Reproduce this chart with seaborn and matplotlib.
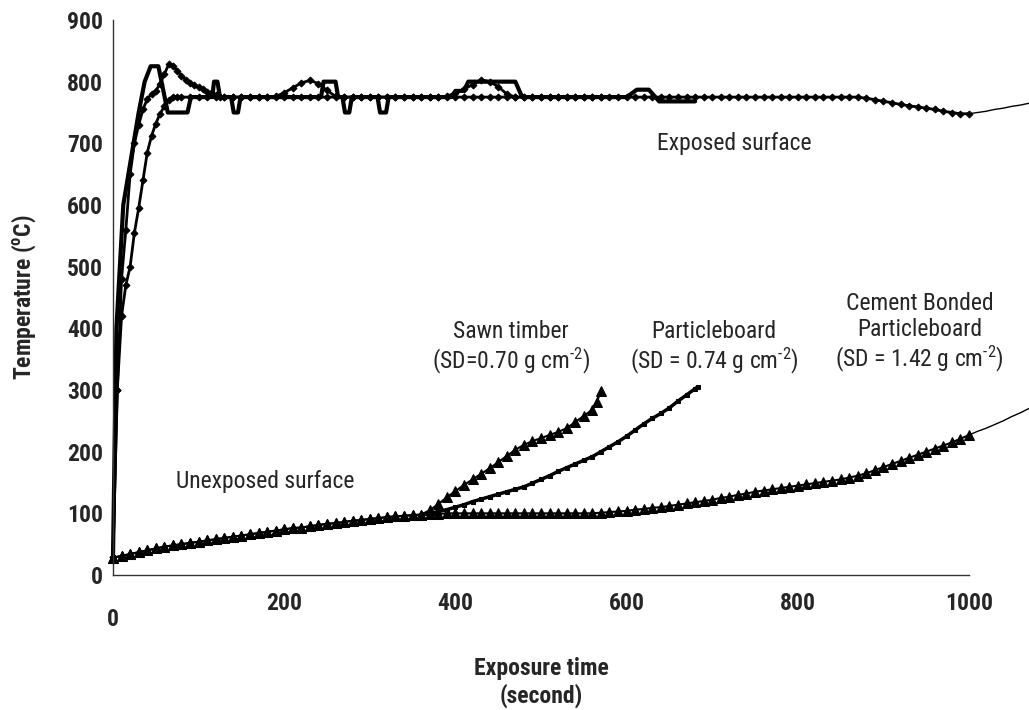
# temperature vs exposure time, exposed and unexposed surfaces
import numpy as np
import pandas as pd
import seaborn as sns
import matplotlib.pyplot as plt
from matplotlib import font_manager

# ---- exposed surface (thermocouples on the fire side) ----
# curve A: plain thick line, stepwise readings
t_exp_a = [0, 4, 8, 12, 18, 24, 30, 37, 44, 53, 64, 87, 91, 116, 118, 122, 125,
           138, 141, 146, 149, 243, 246, 260, 263, 268, 271, 276, 279, 309, 312,
           319, 322, 395, 400, 410, 415, 470, 478, 600, 612, 626, 638, 680]
temp_exp_a = [30, 400, 500, 600, 650, 700, 750, 800, 825, 825, 750, 750, 775, 775, 800, 800, 775,
              775, 750, 750, 775, 775, 800, 800, 775, 775, 750, 750, 775, 775, 750,
              750, 775, 775, 785, 785, 800, 800, 775, 775, 787, 787, 768, 768]

# curve B: diamonds, ends with the sawn timber test
t_exp_b = np.concatenate([np.arange(0, 130, 5), np.arange(130, 571, 10)])
temp_exp_b = [30, 300, 480, 560, 650, 700, 730, 755, 772, 780, 785, 797, 812, 828, 826, 818,
              810, 803, 798, 794, 791, 788, 784, 781, 778, 775,
              775, 775, 775, 775, 775, 775, 776, 782, 790, 798,
              802, 797, 786, 776, 775, 775, 775, 775, 775, 775,
              775, 775, 775, 775, 775, 775, 776, 782, 788, 795,
              803, 800, 792, 780, 775, 775, 775, 775, 775, 775,
              775, 775, 775, 775, 775]

# curve C: diamonds, runs to the end of the cement bonded board test
t_exp_c = np.concatenate([np.arange(0, 80, 5), np.arange(80, 1001, 10)])
temp_exp_c = [30, 300, 420, 470, 500, 555, 595, 640, 685, 712, 732, 748, 760, 770, 775, 775,
              775, 775, 775, 775, 775, 775, 775, 775, 775, 775,
              775, 775, 775, 775, 775, 775, 775, 775, 775, 775,
              775, 775, 775, 775, 775, 775, 775, 775, 775, 775,
              775, 775, 775, 775, 775, 775, 775, 775, 775, 775,
              775, 775, 775, 775, 775, 775, 775, 775, 775, 775,
              775, 775, 775, 775, 775, 775, 775, 775, 775, 775,
              775, 775, 775, 775, 775, 775, 775, 775, 775, 775,
              775, 775, 775, 775, 775, 775, 775, 775, 775,
              775, 773, 771, 768, 766, 763, 761, 759, 757, 755, 752, 750, 748, 748]
t_exp_c_end = [1000, 1010, 1020, 1030, 1040, 1050, 1060, 1070]
temp_exp_c_end = [748, 750, 752, 755, 757, 760, 762, 765]

# ---- unexposed surface ----
t_common = np.arange(0, 351, 10)
temp_common = [28, 31, 34, 37, 40, 43, 46, 48, 50, 52, 54, 56, 58, 60, 62, 64, 66, 68,
               70, 72, 74, 76, 77, 79, 81, 83, 84, 86, 88, 89, 91, 92, 94, 95, 96, 97]

t_timber = [360, 370, 380, 390, 400, 410, 420, 430, 440, 450, 460, 470, 480, 490, 500,
            510, 520, 530, 540, 550, 560, 565, 570]
temp_timber = [98, 105, 115, 126, 136, 146, 155, 164, 173, 183, 193, 203, 211, 217, 222,
               227, 232, 238, 248, 258, 268, 280, 298]

t_pb = [360, 370, 380, 390, 400, 410, 420, 430, 440, 450, 460, 470, 480, 490, 500, 510,
        520, 530, 540, 550, 560, 570, 580, 590, 600, 610, 620, 630, 640, 650, 660, 670,
        680, 683]
temp_pb = [98, 100, 103, 106, 110, 114, 119, 123, 127, 131, 135, 139, 143, 149, 155, 161,
           168, 174, 180, 186, 192, 200, 208, 216, 225, 235, 245, 254, 262, 271, 282, 292,
           302, 305]

t_cbp = np.arange(360, 1001, 10)
temp_cbp = [98, 99, 99, 100, 100, 100, 100, 100, 100, 100, 100, 100, 100, 100, 100, 100,
            100, 100, 100, 100, 100, 101, 102, 103, 104, 106, 107, 109, 110, 112, 114, 116,
            118, 120, 122, 125, 127, 130, 132, 135, 137, 139, 141, 143, 145, 147, 149, 151,
            153, 155, 158, 161, 165, 170, 175, 180, 185, 190, 195, 200, 205, 210, 215, 221,
            227]
t_cbp_end = [1000, 1010, 1020, 1030, 1040, 1050, 1060, 1070]
temp_cbp_end = [227, 233, 238, 244, 250, 257, 263, 270]

xticks = [0, 200, 400, 600, 800, 1000]
yticks = [0, 100, 200, 300, 400, 500, 600, 700, 800, 900]

# ---- style ----
sns.set_style("white")
# narrow sans like the original, one that also has a real bold face
weights = {}
for f in font_manager.fontManager.ttflist:
    weights.setdefault(f.name, set()).add(f.weight)
narrow = 'Liberation Sans'
for name in ['Liberation Sans Narrow', 'Arial Narrow', 'Roboto Condensed',
             'Arimo Narrow', 'Archivo Narrow', 'IBM Plex Sans Condensed', 'PT Sans Narrow']:
    w = weights.get(name, set())
    if 400 in w and any(x >= 600 for x in w if isinstance(x, int)):
        narrow = name
        break
plt.rcParams['font.family'] = [narrow, 'Liberation Sans', 'DejaVu Sans']
plt.rcParams['mathtext.default'] = 'regular'
FS = 17

fig = plt.figure(figsize=(10.29, 7.10), dpi=100)
ax = fig.add_axes([113 / 1029, 1 - 575 / 710, (969 - 113) / 1029, (575 - 20) / 710])

k = dict(color='black', estimator=None, sort=False, ax=ax, legend=False)

# unexposed
sns.lineplot(x=np.concatenate([t_common, t_cbp]), y=temp_common + temp_cbp,
             lw=1.5, marker='^', markersize=6.5, markeredgecolor='black', **k)
sns.lineplot(x=np.concatenate([t_common, t_timber]), y=temp_common + temp_timber,
             lw=1.5, marker='^', markersize=6.5, markeredgecolor='black', **k)
sns.lineplot(x=t_pb, y=temp_pb, lw=2.5, marker='s', markersize=3,
             markeredgecolor='black', **k)
sns.lineplot(x=t_cbp_end, y=temp_cbp_end, lw=1, **k)

# exposed
sns.lineplot(x=t_exp_a, y=temp_exp_a, lw=3, **k)
sns.lineplot(x=t_exp_b, y=temp_exp_b, lw=2, marker='D', markersize=3.5,
             markeredgecolor='black', **k)
sns.lineplot(x=t_exp_c, y=temp_exp_c, lw=2, marker='D', markersize=3.5,
             markeredgecolor='black', **k)
sns.lineplot(x=t_exp_c_end, y=temp_exp_c_end, lw=1, **k)

for ln in ax.lines:
    ln.set_clip_on(False)

ax.set_xlim(0, 1000)
ax.set_ylim(0, 900)
ax.set_xticks(xticks)
ax.set_xticklabels([''] + [str(v) for v in xticks[1:]])
ax.set_yticks(yticks)
ax.tick_params(direction='in', length=7, width=1, labelsize=FS, color='#333333')
ax.tick_params(axis='x', pad=12)
ax.tick_params(axis='y', pad=7)
for lab in ax.get_xticklabels() + ax.get_yticklabels():
    lab.set_fontweight('bold')
for s in ['top', 'right']:
    ax.spines[s].set_visible(False)
for s in ['left', 'bottom']:
    ax.spines[s].set_color('#333333')
    ax.spines[s].set_linewidth(1)

# the lone "0" on the x axis sits lower than the others
ax.annotate('0', xy=(0, 0), xycoords=('data', 'axes fraction'), xytext=(0, -24),
            textcoords='offset points', ha='center', va='top', fontsize=FS,
            fontweight='bold')

ax.set_xlabel('Exposure time\n(second)', fontsize=FS, fontweight='bold', linespacing=1.2)
ax.xaxis.set_label_coords(0.5, -0.148)
ax.set_ylabel('Temperature ($^{o}$C)', fontsize=FS, fontweight='bold')
ax.yaxis.set_label_coords(-0.0876, 0.5)

sup = '$^{\\mathregular{\u20102}}$'  # hyphen, not the long math minus
ax.text(726, 700, 'Exposed surface', fontsize=FS, ha='center', va='center')
ax.text(178, 152, 'Unexposed surface', fontsize=FS, ha='center', va='center')
ax.text(465, 368, 'Sawn timber\n(SD=0.70 g cm' + sup + ')', fontsize=FS,
        ha='center', va='center', linespacing=1.15)
ax.text(702, 368, 'Particleboard\n(SD = 0.74 g cm' + sup + ')', fontsize=FS,
        ha='center', va='center', linespacing=1.15)
ax.text(942, 392, 'Cement Bonded\nParticleboard\n(SD = 1.42 g cm' + sup + ')', fontsize=FS,
        ha='center', va='center', linespacing=1.15)

fig.savefig('out.png', dpi=100)
